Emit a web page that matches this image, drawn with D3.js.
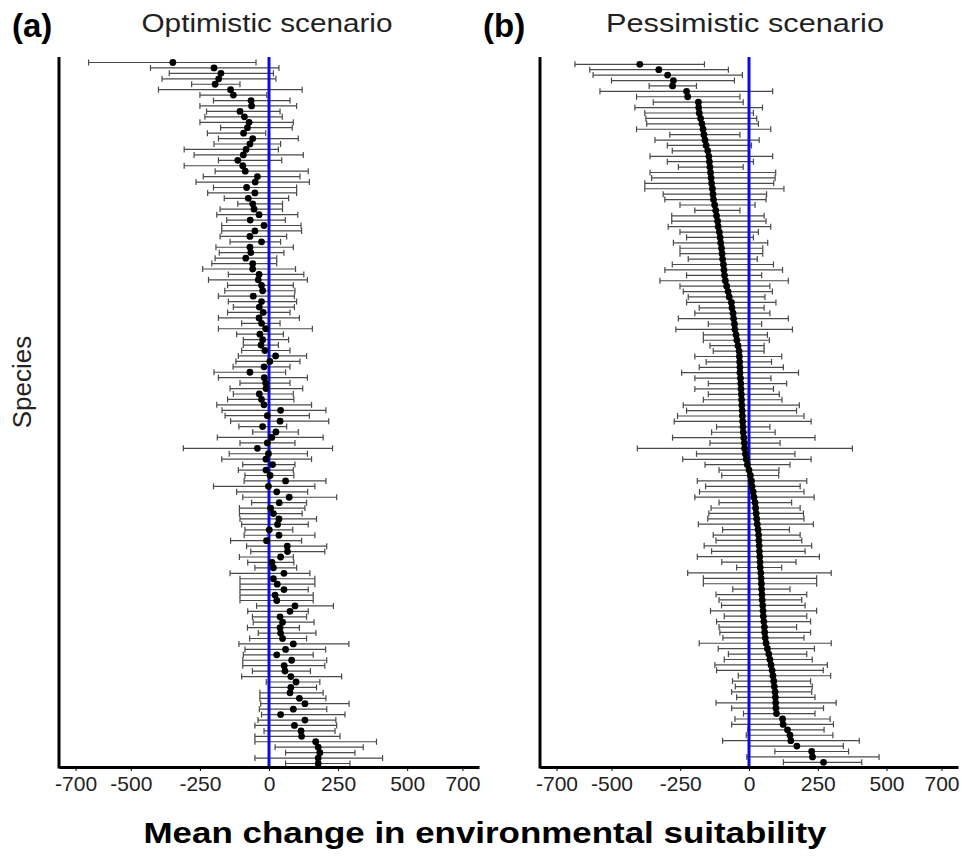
<!DOCTYPE html>
<html>
<head>
<meta charset="utf-8">
<script src="https://cdn.jsdelivr.net/npm/d3@7"></script>
<style>
  body { margin: 0; background: #fff; }
  svg { display: block; font-family: "Liberation Sans", Arial, sans-serif; }
</style>
</head>
<body>
<div id="chart"></div>
<script>
// species are ordered top -> bottom, 130 in each panel
const species = d3.range(1, 131);
const xTicks = [-700, -500, -250, 0, 250, 500, 700];

// (a) optimistic scenario: mean change and interval ends
const optMean = [-348,-199,-174,-182,-195,-139,-129,-65,-63,-105,-89,-72,-78,-92,-59,-69,-83,-93,-113,-95,-86,-42,-50,-81,-51,-75,-59,-54,-36,-68,-18,-51,
  -69,-27,-69,-66,-84,-59,-59,-36,-39,-27,-23,-57,-27,-35,-21,-36,-27,-12,-33,-23,-29,-15,24,3,-18,-69,-17,-12,-11,-35,-27,
  -18,42,-6,40,-23,25,10,-6,-42,-2,-11,13,-11,4,60,-2,28,73,37,6,16,36,31,1,36,-9,66,67,42,11,16,54,16,
  30,54,22,28,94,76,40,49,40,42,49,88,60,28,82,55,58,79,98,79,76,110,130,88,42,130,92,116,118,169,178,184,178,178];
const optLow = [-653,-429,-361,-387,-280,-400,-250,-201,-250,-226,-232,-250,-175,-223,-183,-199,-307,-271,-183,-307,-195,-238,-264,-201,-222,-162,-113,-177,-189,-153,-171,-171,
  -177,-141,-192,-180,-195,-207,-240,-147,-219,-150,-160,-183,-147,-129,-150,-183,-99,-183,-117,-93,-93,-99,-111,-120,-130,-199,-183,-105,-141,-129,-150,
  -189,-170,-159,-139,-109,-59,-187,-105,-310,-144,-171,-95,-111,-87,-90,-201,-117,-95,-63,-107,-107,-105,-99,-87,-90,-139,-81,-66,-107,-77,-51,-141,-105,
  -105,-105,-105,-105,-45,-77,-60,-57,-78,-39,-70,-109,-87,-93,-95,-95,-60,-99,-10,-2,-33,-33,-30,-35,-27,-40,-51,-18,-51,-51,22,60,-51,60];
const optHigh = [-47,36,16,25,-105,120,-8,76,100,40,48,88,84,-12,106,42,34,124,46,-2,142,112,146,100,100,71,49,49,104,59,116,118,
  64,42,88,54,28,28,96,126,139,88,94,92,100,92,76,110,40,157,52,71,34,76,136,112,76,60,139,76,122,88,90,
  154,206,146,216,64,106,196,94,230,139,154,94,88,90,206,166,140,245,136,130,120,172,142,86,166,118,209,202,88,90,100,148,166,
  166,142,160,160,233,142,136,163,110,170,136,289,205,160,209,202,150,263,184,172,196,206,290,209,275,242,245,239,257,389,341,311,411,293];

// (b) pessimistic scenario
const pesMean = [-397,-328,-296,-275,-278,-227,-223,-184,-183,-181,-176,-171,-167,-164,-160,-156,-150,-146,-144,-142,-140,-138,-136,-133,-131,-129,-125,-121,-118,-114,-112,
  -108,-105,-103,-100,-98,-96,-93,-91,-89,-86,-81,-76,-72,-64,-62,-58,-56,-53,-51,-47,-44,-40,-36,-35,-34,-33,-33,-31,-30,-29,-28,-27,
  -26,-25,-24,-23,-22,-21,-19,-17,-16,-13,-10,-6,0,5,9,11,15,18,22,24,26,28,30,33,35,36,37,38,39,40,41,43,44,
  45,46,47,48,50,51,52,54,56,57,59,62,67,72,76,80,84,87,90,92,95,96,97,98,100,122,124,140,149,152,174,228,231,271];
const pesLow = [-633,-579,-567,-500,-363,-542,-409,-348,-415,-379,-375,-372,-409,-288,-342,-297,-279,-360,-297,-257,-360,-354,-379,-379,-312,-306,-251,-197,-281,-281,-294,
  -251,-227,-275,-251,-251,-221,-279,-306,-227,-324,-251,-239,-221,-227,-181,-197,-257,-148,-266,-166,-166,-142,-130,-197,-156,-181,-245,-197,-148,-197,-148,-166,
  -239,-227,-260,-272,-118,-136,-278,-142,-406,-191,-241,-160,-109,-99,-188,-158,-180,-197,-109,-138,-146,-150,-184,-96,-130,-120,-163,-136,-188,-99,-45,-223,-166,
  -166,-59,-120,-109,-100,-140,-90,-118,-109,-106,-95,-181,-112,-75,-90,-124,-118,-39,-60,-50,-63,-45,-120,-63,-20,-51,-63,-4,-10,-96,0,94,-8,125];
const pesHigh = [-162,-75,-24,-53,-191,86,-33,-21,49,16,28,34,79,-33,37,9,1,86,16,-21,97,95,90,127,64,62,22,-33,55,62,79,
  34,16,68,50,50,30,89,122,46,143,76,85,58,98,55,76,143,46,158,67,74,55,55,119,82,125,180,80,137,89,110,120,
  183,173,200,226,76,95,240,113,376,167,226,149,109,108,210,186,200,237,155,186,198,200,234,147,186,192,228,204,256,171,119,299,246,
  246,149,210,192,204,246,210,224,173,224,200,299,238,210,230,285,270,297,224,230,228,240,317,271,240,295,307,273,305,401,343,362,473,410];

const width = 962, height = 858;
const axisTop = 57, axisBottom = 767;

const svg = d3.select("#chart").append("svg")
  .attr("width", width)
  .attr("height", height);

const panels = [
  { tag: "(a)", title: "Optimistic scenario", left: 59, right: 479, rows: [62.5, 763.5],
    tagX: 12, titleX: 267, titleW: 251, mean: optMean, low: optLow, high: optHigh },
  { tag: "(b)", title: "Pessimistic scenario", left: 540, right: 958, rows: [64.3, 762.3],
    tagX: 483, titleX: 745, titleW: 278, mean: pesMean, low: pesLow, high: pesHigh }
];

panels.forEach(p => {
  const x = d3.scaleLinear().domain([-760, 760]).range([p.left, p.right]);
  const y = d3.scalePoint().domain(species).range(p.rows);
  const g = svg.append("g");

  const rows = species.map((s, i) => ({ s, m: p.mean[i], lo: p.low[i], hi: p.high[i] }));

  // error bars
  const bars = g.append("g").attr("stroke", "#4a4a4a").attr("stroke-width", 1.2);
  bars.selectAll(".bar").data(rows).enter().append("line")
    .attr("x1", d => x(d.lo)).attr("x2", d => x(d.hi))
    .attr("y1", d => y(d.s)).attr("y2", d => y(d.s));
  bars.selectAll(".capL").data(rows).enter().append("line")
    .attr("x1", d => x(d.lo)).attr("x2", d => x(d.lo))
    .attr("y1", d => y(d.s) - 3).attr("y2", d => y(d.s) + 3);
  bars.selectAll(".capR").data(rows).enter().append("line")
    .attr("x1", d => x(d.hi)).attr("x2", d => x(d.hi))
    .attr("y1", d => y(d.s) - 3).attr("y2", d => y(d.s) + 3);

  // zero line
  g.append("line")
    .attr("x1", x(0)).attr("x2", x(0))
    .attr("y1", axisTop).attr("y2", axisBottom)
    .attr("stroke", "#0a0ae6").attr("stroke-width", 3);

  // means
  g.append("g").selectAll("circle").data(rows).enter().append("circle")
    .attr("cx", d => x(d.m)).attr("cy", d => y(d.s))
    .attr("r", 3.4).attr("fill", "#000");

  // axes
  const xAxis = g.append("g")
    .attr("transform", `translate(0,${axisBottom})`)
    .call(d3.axisBottom(x).tickValues(xTicks).tickFormat(d => String(d))
      .tickSize(4).tickSizeOuter(0).tickPadding(5));
  xAxis.select(".domain").attr("stroke", "#000").attr("stroke-width", 3);
  xAxis.selectAll(".tick line").attr("stroke", "#000");
  xAxis.selectAll("text").attr("font-size", 21).attr("fill", "#222")
    .style("font-family", "'Liberation Sans', Arial, sans-serif");

  g.append("line")
    .attr("x1", p.left).attr("x2", p.left)
    .attr("y1", axisTop).attr("y2", axisBottom + 1.5)
    .attr("stroke", "#000").attr("stroke-width", 3);

  svg.append("text").text(p.tag)
    .attr("x", p.tagX).attr("y", 37)
    .attr("font-size", 33).attr("font-weight", "bold");
  svg.append("text").text(p.title)
    .attr("x", p.titleX).attr("y", 32)
    .attr("text-anchor", "middle").attr("font-size", 25).attr("fill", "#222")
    .attr("textLength", p.titleW).attr("lengthAdjust", "spacingAndGlyphs");
});

svg.append("text").text("Species")
  .attr("transform", "translate(31,382) rotate(-90)")
  .attr("text-anchor", "middle").attr("font-size", 26).attr("fill", "#222");

svg.append("text").text("Mean change in environmental suitability")
  .attr("x", 485).attr("y", 843)
  .attr("text-anchor", "middle").attr("font-size", 30).attr("font-weight", "bold")
  .attr("textLength", 683).attr("lengthAdjust", "spacingAndGlyphs");
</script>
</body>
</html>
